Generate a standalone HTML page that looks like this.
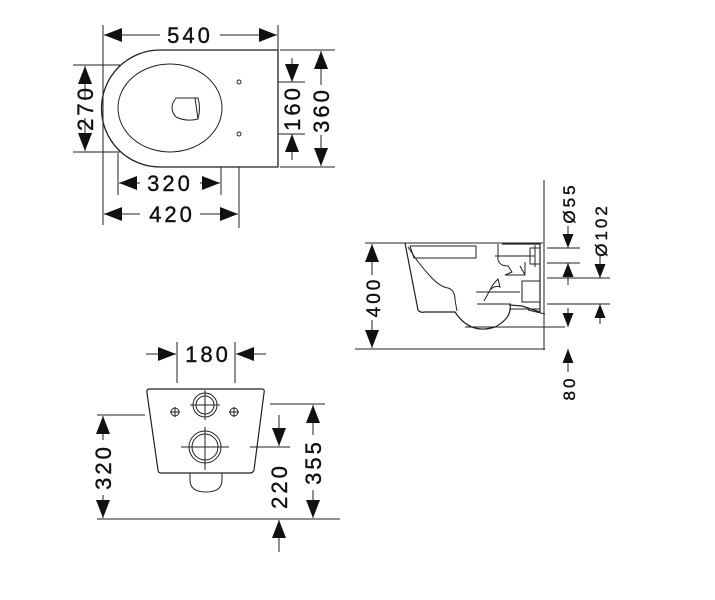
<!DOCTYPE html>
<html><head><style>body{margin:0;background:#fff}svg{display:block}text{font-family:"Liberation Sans",sans-serif;font-size:22px;letter-spacing:3px;fill:#111;stroke:#111;stroke-width:0.4}</style></head>
<body>
<svg width="715" height="600" viewBox="0 0 715 600" xmlns="http://www.w3.org/2000/svg">
<defs>
<marker id="a" viewBox="0 0 18 14" refX="18" refY="7" markerWidth="18" markerHeight="14" markerUnits="userSpaceOnUse" orient="auto"><path d="M0,0L18,7L0,14z" fill="#111"/></marker>
<marker id="b" viewBox="0 0 14 11" refX="14" refY="5.5" markerWidth="14" markerHeight="11" markerUnits="userSpaceOnUse" orient="auto"><path d="M0,0L14,5.5L0,11z" fill="#111"/></marker>
</defs>
<g stroke="#222" stroke-width="1" fill="none">
<!-- TOP VIEW -->
<path d="M160,50H278V167H160A58.5,58.5 0 0 1 160,50Z" stroke-width="1.3"/>
<ellipse cx="170" cy="108" rx="52" ry="44"/>
<path d="M176,98H198Q201,108 198,119Q186,122 176,117Q168,108 176,98Z"/>
<path d="M195,98L198,119"/>
<circle cx="239" cy="82" r="2"/><circle cx="239" cy="134" r="2"/>
<path d="M103,25V225M278,25V50M73,65H120M73,152H120M118,153V195M221,167V195M239,167V228M278,82H305M278,134H305M280,50H335M280,167H335"/>
<path d="M160,35H104" marker-end="url(#a)"/><path d="M220,35H277" marker-end="url(#a)"/>
<path d="M85,100V66" marker-end="url(#a)"/><path d="M85,118V151" marker-end="url(#a)"/>
<path d="M140,183H119" marker-end="url(#a)"/><path d="M200,183H220" marker-end="url(#a)"/>
<path d="M140,214H104" marker-end="url(#a)"/><path d="M200,214H238" marker-end="url(#a)"/>
<path d="M292,58V82" marker-end="url(#a)"/><path d="M292,160V134" marker-end="url(#a)"/>
<path d="M321,85V51" marker-end="url(#a)"/><path d="M321,135V166" marker-end="url(#a)"/>
<!-- SIDE VIEW -->
<path d="M544,180V350M355,349H545M365,243H543"/>
<path d="M372,275V244" marker-end="url(#a)"/><path d="M372,320V348" marker-end="url(#a)"/>
<path d="M405,243L418,310Q420,313 425,312H455Q470,335 495,327Q512,318 510,305L522,306L540,312V244H502" stroke-width="1.2"/>
<path d="M405,243H460M408,247L414,256Q420,265 430,276Q440,287 448,288Q455,290 455,300L457,311"/>
<path d="M410,246H476V258H414Z"/>
<path d="M498,244V260Q500,266 508,266L512,272L505,275H525L520,266"/>
<path d="M495,256H535M525,262V274M522,281V302H540V281Z"/>
<path d="M530,248H540V264H530Z"/><path d="M535,245V267"/>
<path d="M476,292H520M477,304H511M484,301L490,290Q495,285 500,287L498,279Q492,285 490,290"/>
<path d="M465,327H565M510,309H540M528,310L545,314"/>
<path d="M547,248H580M547,263H580M547,278H610M547,304H610"/>
<path d="M568,226V248" marker-end="url(#b)"/><path d="M568,285V263" marker-end="url(#b)"/>
<path d="M600,256V278" marker-end="url(#b)"/><path d="M600,324V304" marker-end="url(#b)"/>
<path d="M568,308V327" marker-end="url(#b)"/>
<path d="M568,372V349" marker-end="url(#b)"/>
<!-- BOTTOM VIEW -->
<path d="M150,389H262Q265,389 264,393L254,470Q253,473 250,473H161Q158,473 158,470L147,393Q146,389 150,389Z" stroke-width="1.2"/>
<path d="M190,473V480Q190,492 206,492Q222,492 222,480V473"/>
<circle cx="205" cy="405" r="12"/><circle cx="205" cy="405" r="9"/>
<circle cx="205" cy="447" r="16"/><circle cx="205" cy="447" r="13"/>
<path d="M205,390V420M190,405H220M205,427V470M181,447H229"/>
<circle cx="175" cy="412" r="4"/><path d="M170,412H180M175,407V417"/>
<circle cx="234" cy="412" r="4"/><path d="M229,412H239M234,407V417"/>
<path d="M177,342V383M235,342V383M97,415H145M97,519H340M250,447H290M270,404H325"/>
<path d="M146,354H176" marker-end="url(#a)"/><path d="M266,354H236" marker-end="url(#a)"/>
<path d="M103,440V416" marker-end="url(#a)"/><path d="M103,495V518" marker-end="url(#a)"/>
<path d="M279,415V446" marker-end="url(#a)"/><path d="M279,552V520" marker-end="url(#a)"/>
<path d="M313,435V405" marker-end="url(#a)"/><path d="M313,490V518" marker-end="url(#a)"/>
</g>
<g>
<text x="190" y="43" text-anchor="middle">540</text>
<text transform="translate(93,108) rotate(-90)" text-anchor="middle">270</text>
<text x="170" y="191" text-anchor="middle">320</text>
<text x="172" y="222" text-anchor="middle">420</text>
<text transform="translate(300,108) rotate(-90)" text-anchor="middle">160</text>
<text transform="translate(329,110) rotate(-90)" text-anchor="middle">360</text>
<text transform="translate(380,297) rotate(-90)" text-anchor="middle" style="font-size:19px">400</text>
<text transform="translate(575,203) rotate(-90)" text-anchor="middle" style="font-size:17px">Ø55</text>
<text transform="translate(607,230) rotate(-90)" text-anchor="middle" style="font-size:17px">Ø102</text>
<text transform="translate(575,388) rotate(-90)" text-anchor="middle" style="font-size:17px">80</text>
<text x="208" y="362" text-anchor="middle">180</text>
<text transform="translate(111,467) rotate(-90)" text-anchor="middle">320</text>
<text transform="translate(287,486) rotate(-90)" text-anchor="middle">220</text>
<text transform="translate(321,462) rotate(-90)" text-anchor="middle">355</text>
</g>
</svg>
</body></html>
